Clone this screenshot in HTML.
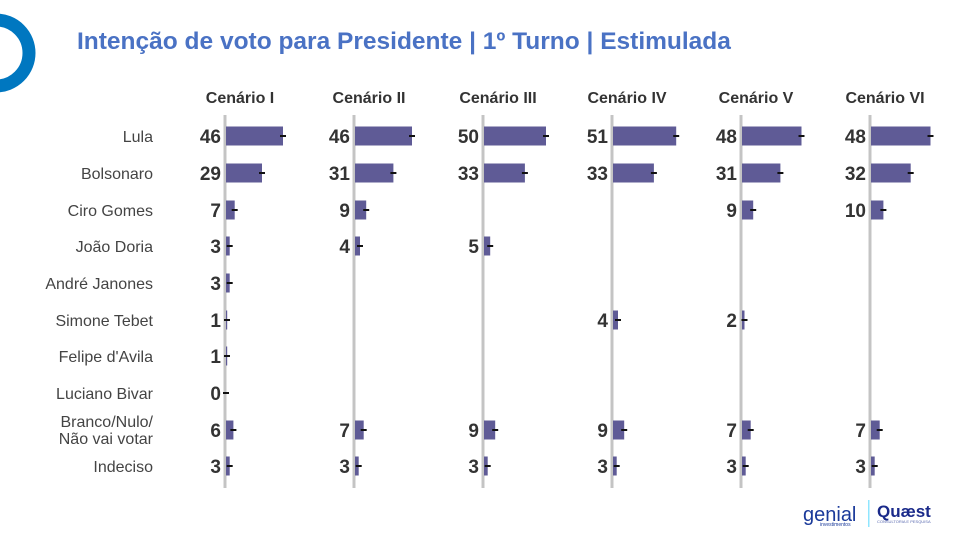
<!DOCTYPE html><html><head><meta charset="utf-8"><style>body{margin:0;background:#fff}svg{display:block}.n{font-size:19px;font-weight:bold;fill:#333;text-anchor:end}.b{fill:#5f5b96}.t{fill:#111}.h{font-size:16px;font-weight:bold;fill:#333;text-anchor:middle}.l{font-size:16px;fill:#444;text-anchor:end}</style></head><body>
<svg width="973" height="551" xmlns="http://www.w3.org/2000/svg" font-family="Liberation Sans, sans-serif">
<rect width="973" height="551" fill="#fff"/>
<circle cx="-4" cy="53" r="33" fill="none" stroke="#0077c0" stroke-width="13"/>
<text x="77" y="49" font-size="24.5" font-weight="bold" fill="#4a72c4">Intenção de voto para Presidente | 1º Turno | Estimulada</text>
<text class="l" x="153" y="142">Lula</text>
<text class="l" x="153" y="179">Bolsonaro</text>
<text class="l" x="153" y="216">Ciro Gomes</text>
<text class="l" x="153" y="252">João Doria</text>
<text class="l" x="153" y="289">André Janones</text>
<text class="l" x="153" y="326">Simone Tebet</text>
<text class="l" x="153" y="362">Felipe d'Avila</text>
<text class="l" x="153" y="399">Luciano Bivar</text>
<text class="l" x="153" y="427">Branco/Nulo/</text>
<text class="l" x="153" y="444">Não vai votar</text>
<text class="l" x="153" y="472">Indeciso</text>

<g transform="translate(225,0)">
<text class="h" x="15" y="103">Cenário I</text><rect x="-1.5" y="115" width="3" height="373" fill="#c4c4c4"/>
<rect class="b" x="1" y="126.5" width="57" height="19"/><rect class="t" x="55" y="135" width="6" height="2"/><text class="n" x="-4" y="143">46</text>
<rect class="b" x="1" y="163.5" width="36" height="19"/><rect class="t" x="34" y="172" width="6" height="2"/><text class="n" x="-4" y="180">29</text>
<rect class="b" x="1" y="200.5" width="8.7" height="19"/><rect class="t" x="6.7" y="209" width="6" height="2"/><text class="n" x="-4" y="217">7</text>
<rect class="b" x="1" y="236.5" width="3.7" height="19"/><rect class="t" x="1.7" y="245" width="6" height="2"/><text class="n" x="-4" y="253">3</text>
<rect class="b" x="1" y="273.5" width="3.7" height="19"/><rect class="t" x="1.7" y="282" width="6" height="2"/><text class="n" x="-4" y="290">3</text>
<rect class="b" x="1" y="310.5" width="1.2" height="19"/><rect class="t" x="-1" y="319" width="6" height="2"/><text class="n" x="-4" y="327">1</text>
<rect class="b" x="1" y="346.5" width="1.2" height="19"/><rect class="t" x="-1" y="355" width="6" height="2"/><text class="n" x="-4" y="363">1</text>
<rect class="t" x="-2" y="392" width="6" height="2"/><text class="n" x="-4" y="400">0</text>
<rect class="b" x="1" y="420.5" width="7.4" height="19"/><rect class="t" x="5.4" y="429" width="6" height="2"/><text class="n" x="-4" y="437">6</text>
<rect class="b" x="1" y="456.5" width="3.7" height="19"/><rect class="t" x="1.7" y="465" width="6" height="2"/><text class="n" x="-4" y="473">3</text>
</g>

<g transform="translate(354,0)">
<text class="h" x="15" y="103">Cenário II</text><rect x="-1.5" y="115" width="3" height="373" fill="#c4c4c4"/>
<rect class="b" x="1" y="126.5" width="57" height="19"/><rect class="t" x="55" y="135" width="6" height="2"/><text class="n" x="-4" y="143">46</text>
<rect class="b" x="1" y="163.5" width="38.4" height="19"/><rect class="t" x="36.4" y="172" width="6" height="2"/><text class="n" x="-4" y="180">31</text>
<rect class="b" x="1" y="200.5" width="11.2" height="19"/><rect class="t" x="9.2" y="209" width="6" height="2"/><text class="n" x="-4" y="217">9</text>
<rect class="b" x="1" y="236.5" width="5" height="19"/><rect class="t" x="3" y="245" width="6" height="2"/><text class="n" x="-4" y="253">4</text>
<rect class="b" x="1" y="420.5" width="8.7" height="19"/><rect class="t" x="6.7" y="429" width="6" height="2"/><text class="n" x="-4" y="437">7</text>
<rect class="b" x="1" y="456.5" width="3.7" height="19"/><rect class="t" x="1.7" y="465" width="6" height="2"/><text class="n" x="-4" y="473">3</text>
</g>

<g transform="translate(483,0)">
<text class="h" x="15" y="103">Cenário III</text><rect x="-1.5" y="115" width="3" height="373" fill="#c4c4c4"/>
<rect class="b" x="1" y="126.5" width="62" height="19"/><rect class="t" x="60" y="135" width="6" height="2"/><text class="n" x="-4" y="143">50</text>
<rect class="b" x="1" y="163.5" width="40.9" height="19"/><rect class="t" x="38.9" y="172" width="6" height="2"/><text class="n" x="-4" y="180">33</text>
<rect class="b" x="1" y="236.5" width="6.2" height="19"/><rect class="t" x="4.2" y="245" width="6" height="2"/><text class="n" x="-4" y="253">5</text>
<rect class="b" x="1" y="420.5" width="11.2" height="19"/><rect class="t" x="9.2" y="429" width="6" height="2"/><text class="n" x="-4" y="437">9</text>
<rect class="b" x="1" y="456.5" width="3.7" height="19"/><rect class="t" x="1.7" y="465" width="6" height="2"/><text class="n" x="-4" y="473">3</text>
</g>

<g transform="translate(612,0)">
<text class="h" x="15" y="103">Cenário IV</text><rect x="-1.5" y="115" width="3" height="373" fill="#c4c4c4"/>
<rect class="b" x="1" y="126.5" width="63.2" height="19"/><rect class="t" x="61.2" y="135" width="6" height="2"/><text class="n" x="-4" y="143">51</text>
<rect class="b" x="1" y="163.5" width="40.9" height="19"/><rect class="t" x="38.9" y="172" width="6" height="2"/><text class="n" x="-4" y="180">33</text>
<rect class="b" x="1" y="310.5" width="5" height="19"/><rect class="t" x="3" y="319" width="6" height="2"/><text class="n" x="-4" y="327">4</text>
<rect class="b" x="1" y="420.5" width="11.2" height="19"/><rect class="t" x="9.2" y="429" width="6" height="2"/><text class="n" x="-4" y="437">9</text>
<rect class="b" x="1" y="456.5" width="3.7" height="19"/><rect class="t" x="1.7" y="465" width="6" height="2"/><text class="n" x="-4" y="473">3</text>
</g>

<g transform="translate(741,0)">
<text class="h" x="15" y="103">Cenário V</text><rect x="-1.5" y="115" width="3" height="373" fill="#c4c4c4"/>
<rect class="b" x="1" y="126.5" width="59.5" height="19"/><rect class="t" x="57.5" y="135" width="6" height="2"/><text class="n" x="-4" y="143">48</text>
<rect class="b" x="1" y="163.5" width="38.4" height="19"/><rect class="t" x="36.4" y="172" width="6" height="2"/><text class="n" x="-4" y="180">31</text>
<rect class="b" x="1" y="200.5" width="11.2" height="19"/><rect class="t" x="9.2" y="209" width="6" height="2"/><text class="n" x="-4" y="217">9</text>
<rect class="b" x="1" y="310.5" width="2.5" height="19"/><rect class="t" x="0.5" y="319" width="6" height="2"/><text class="n" x="-4" y="327">2</text>
<rect class="b" x="1" y="420.5" width="8.7" height="19"/><rect class="t" x="6.7" y="429" width="6" height="2"/><text class="n" x="-4" y="437">7</text>
<rect class="b" x="1" y="456.5" width="3.7" height="19"/><rect class="t" x="1.7" y="465" width="6" height="2"/><text class="n" x="-4" y="473">3</text>
</g>

<g transform="translate(870,0)">
<text class="h" x="15" y="103">Cenário VI</text><rect x="-1.5" y="115" width="3" height="373" fill="#c4c4c4"/>
<rect class="b" x="1" y="126.5" width="59.5" height="19"/><rect class="t" x="57.5" y="135" width="6" height="2"/><text class="n" x="-4" y="143">48</text>
<rect class="b" x="1" y="163.5" width="39.7" height="19"/><rect class="t" x="37.7" y="172" width="6" height="2"/><text class="n" x="-4" y="180">32</text>
<rect class="b" x="1" y="200.5" width="12.4" height="19"/><rect class="t" x="10.4" y="209" width="6" height="2"/><text class="n" x="-4" y="217">10</text>
<rect class="b" x="1" y="420.5" width="8.7" height="19"/><rect class="t" x="6.7" y="429" width="6" height="2"/><text class="n" x="-4" y="437">7</text>
<rect class="b" x="1" y="456.5" width="3.7" height="19"/><rect class="t" x="1.7" y="465" width="6" height="2"/><text class="n" x="-4" y="473">3</text>
</g>

<text x="803" y="521" font-size="20" fill="#1a3a9a">genial</text>
<text x="820" y="526" font-size="5" fill="#1a3a9a">investimentos</text>
<rect x="868" y="500" width="1.5" height="27" fill="#8fe6ff"/>
<text x="877" y="517" font-size="17" font-weight="bold" fill="#1a2a8a">Quæst</text>
<text x="877" y="523" font-size="4" fill="#5a6ab0">CONSULTORIA E PESQUISA</text>
</svg></body></html>
